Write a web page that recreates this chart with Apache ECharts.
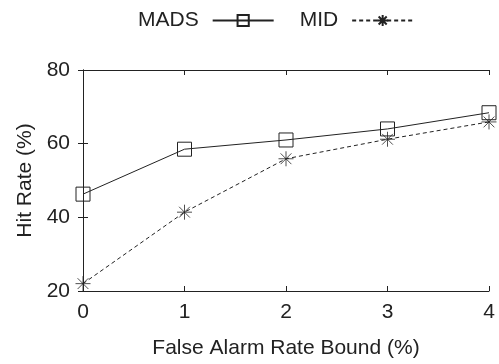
<!DOCTYPE html>
<html>
<head>
<meta charset="utf-8">
<script src="https://cdn.jsdelivr.net/npm/echarts@6/dist/echarts.min.js"></script>
<style>
html, body { margin: 0; padding: 0; background: #fff; }
#main { width: 499px; height: 364px; }
</style>
</head>
<body>
<div id="main"></div>
<script>
// false alarm rate bound (%) on x, hit rate (%) on y
var bound_list = [0, 1, 2, 3, 4];
var mads_list = [46.3, 58.5, 61.0, 64.0, 68.4];
var mid_list = [22.0, 41.4, 55.9, 61.2, 65.9];
var y_ticks = [20, 40, 60, 80];

var ink = '#222';
var font = 'Liberation Sans, Helvetica, Arial, sans-serif';
var fsize = 21;
var star = 'path://M-1,0L1,0M0,-1L0,1M-0.72,-0.72L0.72,0.72M-0.72,0.72L0.72,-0.72';

function pairs(xs, ys) {
    var out = [];
    for (var i = 0; i < xs.length; i++) { out.push([xs[i], ys[i]]); }
    return out;
}

var myChart = echarts.init(document.getElementById('main'));
var option = {
    animation: false,
    backgroundColor: '#fff',
    textStyle: { fontFamily: font, color: ink },
    legend: {
        top: 5,
        left: 133,
        align: 'right',
        itemWidth: 61,
        itemHeight: 14,
        itemGap: 25,
        textStyle: { fontSize: fsize, color: ink, fontFamily: font, padding: [0, 9, 0, 0] },
        data: ['MADS', 'MID']
    },
    grid: { left: 83, right: 10, top: 70, bottom: 72 },
    xAxis: [{
        type: 'value',
        min: bound_list[0],
        max: bound_list[bound_list.length - 1],
        interval: 1,
        name: 'False Alarm Rate Bound (%)',
        nameLocation: 'middle',
        nameGap: 47,
        nameTextStyle: { fontSize: fsize, color: ink, fontFamily: font },
        axisLine: { lineStyle: { color: ink, width: 1 } },
        axisTick: { inside: true, length: 5, lineStyle: { color: ink } },
        axisLabel: { fontSize: fsize, color: ink, margin: 11, fontFamily: font },
        splitLine: { show: false }
    }, {
        type: 'value',
        position: 'top',
        min: bound_list[0],
        max: bound_list[bound_list.length - 1],
        interval: 1,
        axisLine: { show: true, lineStyle: { color: ink, width: 1 } },
        axisTick: { show: true, inside: true, length: 5, lineStyle: { color: ink } },
        axisLabel: { show: false },
        splitLine: { show: false }
    }],
    yAxis: [{
        type: 'value',
        min: y_ticks[0],
        max: y_ticks[y_ticks.length - 1],
        interval: 20,
        name: 'Hit Rate (%)',
        nameLocation: 'middle',
        nameGap: 41,
        nameTextStyle: { fontSize: fsize, color: ink, fontFamily: font },
        axisLine: { show: true, lineStyle: { color: ink, width: 1 } },
        axisTick: { show: true, inside: true, length: 5, lineStyle: { color: ink } },
        axisLabel: { fontSize: fsize, color: ink, margin: 13, fontFamily: font },
        splitLine: { show: false }
    }, {
        type: 'value',
        position: 'right',
        min: y_ticks[0],
        max: y_ticks[y_ticks.length - 1],
        interval: 20,
        axisLine: { show: true, lineStyle: { color: ink, width: 1 } },
        axisTick: { show: true, inside: true, length: 5, lineStyle: { color: ink } },
        axisLabel: { show: false },
        splitLine: { show: false }
    }],
    series: [{
        name: 'MADS',
        type: 'line',
        data: pairs(bound_list, mads_list),
        symbol: 'rect',
        symbolSize: 14,
        showAllSymbol: true,
        lineStyle: { color: ink, width: 1, type: 'solid' },
        itemStyle: { color: 'rgba(0,0,0,0)', borderColor: ink, borderWidth: 1 }
    }, {
        name: 'MID',
        type: 'line',
        data: pairs(bound_list, mid_list),
        symbol: star,
        symbolSize: 15,
        showAllSymbol: true,
        lineStyle: { color: ink, width: 1, type: [4, 3] },
        itemStyle: { color: 'rgba(0,0,0,0)', borderColor: ink, borderWidth: 0.8 }
    }]
};
myChart.setOption(option);
</script>
</body>
</html>
